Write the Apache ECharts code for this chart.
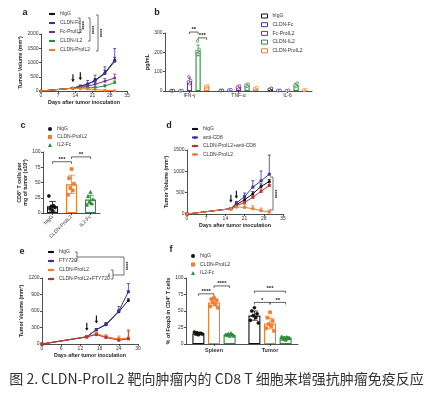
<!DOCTYPE html>
<html><head><meta charset="utf-8">
<script src="https://cdn.jsdelivr.net/npm/echarts/dist/echarts.min.js"></script>
<style>html,body{margin:0;padding:0;background:#fff;}#chart{width:433px;height:397px;}</style>
</head><body><div id="chart"></div>
<script>
// ================= DATA =================
// Panel a : tumour growth
const aDays = [0, 13, 16, 19, 22, 26, 30];
const aIgG = [0, 100, 165, 235, 375, 635, 1080];
const aIgGErr = [0, 10, 25, 40, 60, 90, 100];
const aCldnFc = [0, 100, 170, 250, 355, 610, 1040];
const aCldnFcErr = [0, 10, 40, 120, 200, 240, 450];
const aFcPro = [0, 100, 160, 170, 235, 345, 455];
const aFcProErr = [0, 10, 20, 35, 60, 90, 135];
const aCldnIl2 = [0, 100, 110, 112, 120, 178, 295];
const aCldnIl2Err = [0, 10, 15, 20, 30, 45, 60];
const aCldnPro = [0, 100, 80, 68, 47, 25, 12];
const aCldnProErr = [0, 10, 15, 20, 15, 10, 8];
const aArrowDays = [13, 16];

// Panel b : cytokines (pg/mL)
const bCats = ['IFN-γ', 'TNF-α', 'IL-6'];
const bIgG = [2, 3, 9];          const bIgGSd = [1, 1, 3];
const bCldnFc = [2, 5, 3];       const bCldnFcSd = [1, 2, 1];
const bFcPro = [52, 21, 2];      const bFcProSd = [15, 6, 2];
const bCldnIl2 = [210, 30, 32];  const bCldnIl2Sd = [28, 6, 8];
const bCldnPro = [24, 14, 5];    const bCldnProSd = [3, 3, 2];
const bIgGPts = [[1, 2, 3], [2, 3, 4], [6, 9, 14]];
const bCldnFcPts = [[1, 2, 3], [3, 5, 7], [2, 3, 4]];
const bFcProPts = [[38, 48, 55, 73], [15, 20, 27], [0, 2, 4]];
const bCldnIl2Pts = [[190, 205, 215, 258], [24, 30, 36], [25, 30, 41]];
const bCldnProPts = [[20, 24, 28], [10, 14, 18], [3, 5, 7]];
const bSig = [[0, 2, 0, 3, 305, '**'], [0, 3, 0, 4, 275, '***']];

// Panel c : CD8+ T cells per mg tumour
const cCats = ['hIgG', 'CLDN-ProIL2', 'IL2-Fc'];
const cMeans = [11, 47, 22];
const cSd = [8, 15, 7];
const cPts = [[4, 7, 9, 11, 12, 28], [72, 57, 48, 41, 37, 30], [34, 27, 22, 18, 15, 13]];
const cSig = [[0, 0, 1, 0, 84, '***'], [1, 0, 2, 0, 92, '**']];

// Panel d : CD8 depletion
const dDays = [0, 16, 18, 21, 24, 27, 30];
const dIgG = [0, 124, 218, 334, 474, 645, 761];
const dIgGErr = [0, 10, 20, 40, 50, 60, 50];
const dAnti = [0, 124, 256, 412, 630, 777, 932];
const dAntiErr = [0, 15, 40, 80, 150, 230, 450];
const dCombo = [0, 124, 190, 273, 390, 530, 670];
const dComboErr = [0, 10, 20, 30, 40, 60, 70];
const dPro = [0, 124, 164, 156, 124, 78, 47];
const dProErr = [0, 10, 40, 70, 70, 60, 50];
const dArrowDays = [16, 18];

// Panel e : FTY720
const eDays = [0, 14, 17, 20, 24, 27];
const eIgG = [0, 130, 262, 350, 587, 793];
const eIgGErr = [0, 10, 20, 20, 30, 30];
const eFty = [0, 130, 262, 360, 600, 950];
const eFtyErr = [0, 10, 20, 30, 80, 150];
const ePro = [0, 130, 190, 130, 94, 110];
const eProErr = [0, 10, 40, 40, 50, 120];
const eCombo = [0, 130, 170, 118, 69, 94];
const eComboErr = [0, 10, 30, 30, 40, 160];
const eArrowDays = [14, 17];

// Panel f : % Foxp3 in CD4+ T cells
const fCats = ['Spleen', 'Tumor'];
const fIgG = [16, 43];   const fIgGSd = [1.5, 7];
const fPro = [63, 31];   const fProSd = [5, 8];
const fIl2 = [14, 9];    const fIl2Sd = [1.5, 2];
const fIgGPts = [[14, 15, 16, 17, 16, 18, 15], [55, 50, 46, 43, 40, 36, 32]];
const fProPts = [[70, 68, 66, 63, 60, 57, 55], [48, 40, 35, 30, 27, 24, 20]];
const fIl2Pts = [[12, 13, 14, 15, 16, 14, 12], [6, 7, 8, 9, 10, 11, 9]];
const fSig = [[0, 0, 0, 1, 76, '****'], [0, 1, 0, 2, 88, '****'], [1, 0, 1, 2, 80, '***'], [1, 0, 1, 1, 63, '*'], [1, 1, 1, 2, 63, '**']];

const caption = '图 2. CLDN-ProIL2 靶向肿瘤内的 CD8 T 细胞来增强抗肿瘤免疫反应';

// ================= STYLE / HELPERS =================
const FONT = '"Liberation Sans", Arial, Helvetica, sans-serif';
const C = { igg: '#111111', blue: '#3535a8', purple: '#7e2d90', green: '#2e8b3c', orange: '#f07d2b', red: '#c23030' };
const ARROW = 'path://M2,0 L4,0 L4,9 L6,9 L3,14 L0,9 L2,9 Z';
const JIT = [0, -1, 1, -0.5, 0.5, -1.5, 1.5];

const grids = [
  { left: 41, top: 34, width: 86, height: 57 },
  { left: 165, top: 33, width: 147, height: 58 },
  { left: 43, top: 152, width: 57, height: 61 },
  { left: 187, top: 150, width: 96, height: 64 },
  { left: 42, top: 278, width: 96, height: 66 },
  { left: 186, top: 278, width: 112, height: 66 }
].map(g => Object.assign({ containLabel: false, outerBoundsMode: 'none' }, g));

function baseAxis(gi) {
  return {
    gridIndex: gi,
    axisLine: { show: true, onZero: false, lineStyle: { color: '#222', width: 0.8 } },
    axisTick: { show: true, length: 2, lineStyle: { color: '#222', width: 0.8 } },
    axisLabel: { fontSize: 5, color: '#333', margin: 2.5, fontFamily: FONT },
    splitLine: { show: false },
    nameLocation: 'middle',
    nameTextStyle: { fontSize: 5.3, color: '#222', fontWeight: 'bold', fontFamily: FONT, lineHeight: 6 }
  };
}
function vAxis(gi, min, max, interval, name, nameGap) {
  const a = Object.assign(baseAxis(gi), { type: 'value', min, max, interval, name, nameGap });
  a.axisLabel.formatter = v => String(v);
  return a;
}
function cAxis(gi, data, labelExtra) {
  const a = Object.assign(baseAxis(gi), { type: 'category', data, boundaryGap: true });
  a.axisTick.alignWithLabel = true;
  Object.assign(a.axisLabel, labelExtra || {});
  return a;
}

function lineSeries(gi, name, xs, ys, color, symbol) {
  return { type: 'line', name, xAxisIndex: gi, yAxisIndex: gi, data: xs.map((x, i) => [x, ys[i]]),
    symbol, symbolSize: 3, showSymbol: true, lineStyle: { color, width: 1 }, itemStyle: { color },
    silent: true, z: 3 };
}
function lineErr(gi, xs, ys, errs, color) {
  return { type: 'custom', xAxisIndex: gi, yAxisIndex: gi, silent: true, z: 2,
    data: xs.map((x, i) => [x, ys[i], errs[i]]),
    renderItem(p, api) {
      const x = api.value(0), m = api.value(1), e = api.value(2);
      if (!e) return null;
      const p0 = api.coord([x, m]), p1 = api.coord([x, m + e]);
      return { type: 'group', children: [
        { type: 'line', shape: { x1: p0[0], y1: p0[1], x2: p1[0], y2: p1[1] }, style: { stroke: color, lineWidth: 0.8 } },
        { type: 'line', shape: { x1: p1[0] - 1.5, y1: p1[1], x2: p1[0] + 1.5, y2: p1[1] }, style: { stroke: color, lineWidth: 0.8 } }
      ] };
    } };
}
function arrows(xs, days, vals) {
  return { symbol: ARROW, symbolSize: [3.5, 8], silent: true, label: { show: false },
    itemStyle: { color: '#111' }, animation: false,
    data: days.map(d => ({ coord: [d, vals[xs.indexOf(d)]], symbolOffset: [0, -10] })) };
}

function offs(k, n, bw, gap) { return (k - (n - 1) / 2) * bw * (1 + gap); }
function markerShape(kind, x, y, r, fill, stroke) {
  const st = { fill, stroke, lineWidth: 0.7 };
  if (kind === 'circle') return { type: 'circle', shape: { cx: x, cy: y, r }, style: st };
  if (kind === 'square') return { type: 'rect', shape: { x: x - r, y: y - r, width: 2 * r, height: 2 * r }, style: st };
  return { type: 'polygon', shape: { points: [[x, y - r * 1.2], [x - r * 1.1, y + r * 0.8], [x + r * 1.1, y + r * 0.8]] }, style: st };
}
function barGroup(gi, name, k, n, bw, gap, means, sds, pts, color, marker, hollowDot, nCats) {
  const off = offs(k, n, bw, gap);
  const barData = [];
  for (let i = 0; i < nCats; i++) barData.push(means[i] == null ? '-' : means[i]);
  const out = [];
  out.push({ type: 'bar', name, xAxisIndex: gi, yAxisIndex: gi, data: barData, barWidth: bw,
    barGap: (gap * 100) + '%', itemStyle: { color: 'rgba(255,255,255,0)', borderColor: color, borderWidth: 1.1 },
    silent: true, z: 2 });
  const eData = [];
  means.forEach((m, i) => { if (m != null) eData.push([i, m, sds[i]]); });
  out.push({ type: 'custom', xAxisIndex: gi, yAxisIndex: gi, silent: true, z: 4, data: eData,
    renderItem(p, api) {
      const i = api.value(0), m = api.value(1), s = api.value(2);
      const x = api.coord([i, m])[0] + off;
      const yT = api.coord([i, m + s])[1], yB = api.coord([i, Math.max(m - s, 0)])[1];
      const h = bw * 0.3;
      return { type: 'group', children: [
        { type: 'line', shape: { x1: x, y1: yT, x2: x, y2: yB }, style: { stroke: color, lineWidth: 0.8 } },
        { type: 'line', shape: { x1: x - h, y1: yT, x2: x + h, y2: yT }, style: { stroke: color, lineWidth: 0.8 } },
        { type: 'line', shape: { x1: x - h, y1: yB, x2: x + h, y2: yB }, style: { stroke: color, lineWidth: 0.8 } }
      ] };
    } });
  const dData = [];
  pts.forEach((arr, i) => { if (arr) arr.forEach((v, j) => dData.push([i, v, j])); });
  out.push({ type: 'custom', xAxisIndex: gi, yAxisIndex: gi, silent: true, z: 5, data: dData,
    renderItem(p, api) {
      const i = api.value(0), v = api.value(1), j = api.value(2);
      const c = api.coord([i, v]);
      const x = c[0] + off + JIT[j % 7] * bw * 0.22;
      const r = hollowDot ? 1.3 : 1.5;
      return markerShape(marker, x, c[1], r, hollowDot ? '#fff' : color, color);
    } });
  return out;
}
function sigSeries(gi, n, bw, gap, specs) {
  return { type: 'custom', xAxisIndex: gi, yAxisIndex: gi, silent: true, z: 6, clip: false,
    data: specs.map(s => [s[0], s[4]]),
    renderItem(p, api) {
      const s = specs[p.dataIndex];
      const a = api.coord([s[0], s[4]]), b = api.coord([s[2], s[4]]);
      const y = a[1];
      const x1 = a[0] + offs(s[1], n, bw, gap), x2 = b[0] + offs(s[3], n, bw, gap);
      return { type: 'group', children: [
        { type: 'polyline', shape: { points: [[x1, y + 2], [x1, y], [x2, y], [x2, y + 2]] }, style: { stroke: '#222', lineWidth: 0.7, fill: null } },
        { type: 'text', x: (x1 + x2) / 2, y: y + 0.5, style: { text: s[5], fill: '#222', fontSize: 6, fontWeight: 'bold', fontFamily: FONT, align: 'center', verticalAlign: 'bottom' } }
      ] };
    } };
}
function legend(left, top, gap, items, iw, ih) {
  return { orient: 'vertical', left, top, padding: 0, itemGap: gap, itemWidth: iw, itemHeight: ih,
    selectedMode: false, data: items, formatter: n => n.slice(2),
    textStyle: { fontSize: 5, color: '#333', fontFamily: FONT, lineHeight: 6 } };
}

// ================= SERIES =================
const series = [];
// a
[['a:hIgG', aIgG, aIgGErr, C.igg, 'circle'], ['a:CLDN-Fc', aCldnFc, aCldnFcErr, C.blue, 'circle'],
 ['a:Fc-ProIL2', aFcPro, aFcProErr, C.purple, 'circle'], ['a:CLDN-IL2', aCldnIl2, aCldnIl2Err, C.green, 'circle'],
 ['a:CLDN-ProIL2', aCldnPro, aCldnProErr, C.orange, 'circle']].forEach((d, idx) => {
  const s = lineSeries(0, d[0], aDays, d[1], d[3], d[4]);
  if (idx === 0) s.markPoint = arrows(aDays, aArrowDays, aIgG);
  series.push(s, lineErr(0, aDays, d[1], d[2], d[3]));
});
// b
const bBW = 5.2, bGap = 0.65;
[['b:hIgG', bIgG, bIgGSd, bIgGPts, C.igg], ['b:CLDN-Fc', bCldnFc, bCldnFcSd, bCldnFcPts, C.blue],
 ['b:Fc-ProIL2', bFcPro, bFcProSd, bFcProPts, C.purple], ['b:CLDN-IL2', bCldnIl2, bCldnIl2Sd, bCldnIl2Pts, C.green],
 ['b:CLDN-ProIL2', bCldnPro, bCldnProSd, bCldnProPts, C.orange]].forEach((d, k) => {
  series.push(...barGroup(1, d[0], k, 5, bBW, bGap, d[1], d[2], d[3], d[4], 'circle', true, 3));
});
series.push(sigSeries(1, 5, bBW, bGap, bSig));
// c
const cBW = 11;
const cCols = [C.igg, C.orange, C.green], cMk = ['circle', 'square', 'triangle'];
cCats.forEach((name, i) => {
  const m = [null, null, null], s = [null, null, null], p = [null, null, null];
  m[i] = cMeans[i]; s[i] = cSd[i]; p[i] = cPts[i];
  series.push(...barGroup(2, 'c:' + name, 0, 1, cBW, -1, m, s, p, cCols[i], cMk[i], false, 3));
});
series.push(sigSeries(2, 1, cBW, 0, cSig));
// d
[['d:hIgG', dIgG, dIgGErr, C.igg, 'circle'], ['d:anti-CD8', dAnti, dAntiErr, C.blue, 'rect'],
 ['d:CLDN-ProIL2+anti-CD8', dCombo, dComboErr, C.red, 'rect'], ['d:CLDN-ProIL2', dPro, dProErr, C.orange, 'rect']].forEach((d, idx) => {
  const s = lineSeries(3, d[0], dDays, d[1], d[3], d[4]);
  if (idx === 0) s.markPoint = arrows(dDays, dArrowDays, dIgG);
  series.push(s, lineErr(3, dDays, d[1], d[2], d[3]));
});
// e
[['e:hIgG', eIgG, eIgGErr, C.igg, 'circle'], ['e:FTY720', eFty, eFtyErr, C.blue, 'rect'],
 ['e:CLDN-ProIL2', ePro, eProErr, C.orange, 'rect'], ['e:CLDN-ProIL2+FTY720', eCombo, eComboErr, C.red, 'rect']].forEach((d, idx) => {
  const s = lineSeries(4, d[0], eDays, d[1], d[3], d[4]);
  if (idx === 0) s.markPoint = arrows(eDays, eArrowDays, eIgG);
  series.push(s, lineErr(4, eDays, d[1], d[2], d[3]));
});
// f
const fBW = 12, fGap = 0.3;
[['f:hIgG', fIgG, fIgGSd, fIgGPts, C.igg, 'circle'], ['f:CLDN-ProIL2', fPro, fProSd, fProPts, C.orange, 'square'],
 ['f:IL2-Fc', fIl2, fIl2Sd, fIl2Pts, C.green, 'triangle']].forEach((d, k) => {
  series.push(...barGroup(5, d[0], k, 3, fBW, fGap, d[1], d[2], d[3], d[4], d[5], false, 2));
});
series.push(sigSeries(5, 3, fBW, fGap, fSig));

// ================= LEGENDS =================
const legends = [
  legend(48, 11, 3, ['a:hIgG', 'a:CLDN-Fc', 'a:Fc-ProIL2', 'a:CLDN-IL2', 'a:CLDN-ProIL2'], 6, 3),
  legend(261, 13, 2.7, [['b:hIgG', C.igg], ['b:CLDN-Fc', C.blue], ['b:Fc-ProIL2', C.purple], ['b:CLDN-IL2', C.green], ['b:CLDN-ProIL2', C.orange]]
    .map(d => ({ name: d[0], icon: 'rect', itemStyle: { color: '#fff', borderColor: d[1], borderWidth: 1 } })), 6, 4),
  legend(48, 126, 2, [['c:hIgG', C.igg, 'circle'], ['c:CLDN-ProIL2', C.orange, 'rect'], ['c:IL2-Fc', C.green, 'triangle']]
    .map(d => ({ name: d[0], icon: d[2], itemStyle: { color: d[1], borderWidth: 0 } })), 4, 4),
  legend(191, 126, 2.5, ['d:hIgG', 'd:anti-CD8', 'd:CLDN-ProIL2+anti-CD8', 'd:CLDN-ProIL2'], 6, 3),
  legend(47, 249, 3, ['e:hIgG', 'e:FTY720', 'e:CLDN-ProIL2', 'e:CLDN-ProIL2+FTY720'], 6, 3),
  legend(191, 253, 2.5, [['f:hIgG', C.igg, 'circle'], ['f:CLDN-ProIL2', C.orange, 'rect'], ['f:IL2-Fc', C.green, 'triangle']]
    .map(d => ({ name: d[0], icon: d[2], itemStyle: { color: d[1], borderWidth: 0 } })), 4, 4)
];

// ================= ANNOTATIONS (brackets / letters) =================
function txt(x, y, text, size, rot, weight) {
  return { type: 'text', x, y, rotation: rot || 0, silent: true,
    style: { text, fontSize: size, fontWeight: weight || 'bold', fill: '#222', fontFamily: FONT, align: 'center', verticalAlign: 'middle' } };
}
function pl(points) {
  return { type: 'polyline', silent: true, shape: { points }, style: { stroke: '#333', lineWidth: 0.7, fill: null } };
}
const R = Math.PI / 2;
const graphics = [
  txt(25, 13, 'a', 9), txt(157, 13, 'b', 9), txt(23, 126, 'c', 9), txt(169, 126, 'd', 9), txt(22, 252, 'e', 9), txt(171, 250, 'f', 9),
  // a brackets
  pl([[78, 18], [80, 18], [80, 33], [78, 33]]), txt(84.5, 25.5, '****', 5.5, R),
  pl([[88, 18], [90, 18], [90, 41], [88, 41]]), txt(94, 30, '****', 5.5, R),
  pl([[96, 15], [98, 15], [98, 51], [96, 51]]), txt(102, 33, '****', 5.5, R),
  // d bracket
  pl([[270, 177], [273, 177], [273, 210], [270, 210]]), txt(277.5, 194, '****', 5.5, R),
  // e brackets
  pl([[75, 252], [77, 252], [77, 261], [75, 261]]), pl([[77, 257], [124, 257], [124, 275], [113, 275]]),
  pl([[111, 270], [113, 270], [113, 279], [111, 279]]), txt(109, 275, 'ns', 4, R, 'normal'),
  txt(128.5, 266, '****', 5.5, R)
];

// ================= CHART =================
const chart = echarts.init(document.getElementById('chart'), null, { renderer: 'canvas', width: 433, height: 397 });
chart.setOption({
  animation: false,
  backgroundColor: '#fff',
  textStyle: { fontFamily: FONT },
  title: { text: caption, left: 'center', top: 372, padding: 0,
    textStyle: { fontSize: 14, fontWeight: 'normal', color: '#333', fontFamily: '"Noto Sans CJK SC", "Noto Sans", sans-serif' } },
  grid: grids,
  xAxis: [
    vAxis(0, 0, 35, 7, 'Days after tumor inoculation', 8),
    cAxis(1, bCats),
    cAxis(2, cCats, { rotate: 45, margin: 3 }),
    vAxis(3, 0, 35, 7, 'Days after tumor inoculation', 9),
    vAxis(4, 0, 30, 6, 'Days after tumor inoculation', 9),
    cAxis(5, fCats, { fontWeight: 'bold', fontSize: 5.5, margin: 3 })
  ],
  yAxis: [
    vAxis(0, 0, 2000, 500, 'Tumor Volume (mm³)', 12),
    vAxis(1, 0, 300, 100, 'pg/mL', 10),
    vAxis(2, 0, 100, 25, 'CD8⁺ T cells per\nmg of tumor (x10²)', 12),
    vAxis(3, 0, 1500, 500, 'Tumor Volume (mm³)', 15),
    vAxis(4, 0, 1200, 300, 'Tumor Volume (mm³)', 14),
    vAxis(5, 0, 100, 25, '% of Foxp3 in CD4⁺ T cells', 11)
  ],
  legend: legends,
  graphic: graphics,
  series
});
</script>
</body></html>
